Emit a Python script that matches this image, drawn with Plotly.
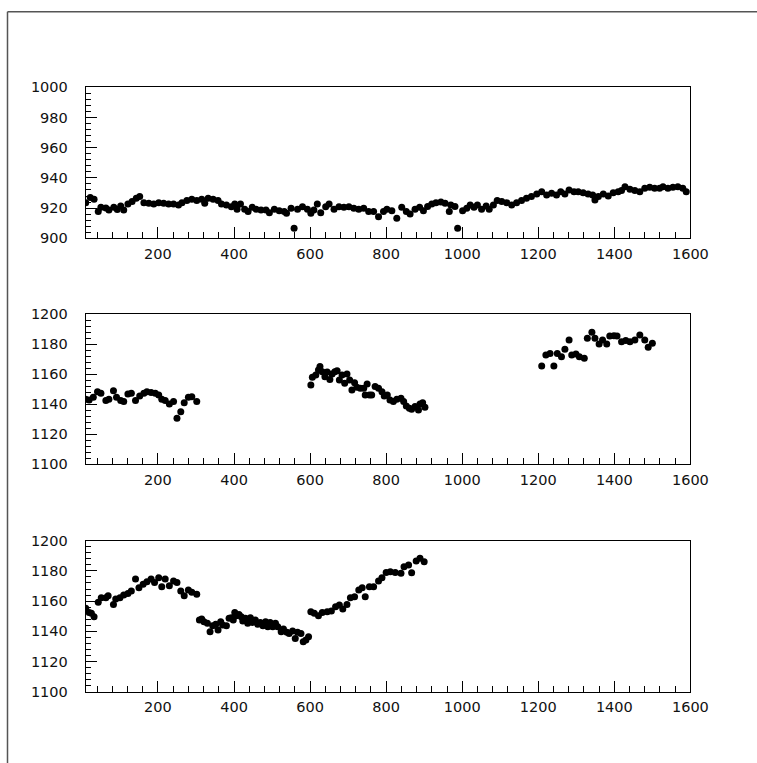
import plotly.graph_objects as go

# ---- panel 1 : values around 920 ----
p1_x = [10, 22, 32, 43, 50, 63, 71, 84, 93, 102, 110, 121, 132, 143, 152, 163, 176, 189,
        202, 215, 228, 241, 254, 263, 276, 289, 302, 315, 323, 332, 345, 358, 367, 380,
        393, 402, 408, 417, 428, 437, 448, 458, 471, 484, 493, 506, 519, 532, 538, 550,
        558, 567, 580, 593, 602, 610, 619, 628, 641, 650, 663, 676, 689, 702, 715, 728,
        741, 754, 767, 780, 793, 802, 815, 828, 841, 853, 863, 876, 888, 898, 909, 920,
        931, 944, 955, 966, 970, 981, 988, 1001, 1012, 1021, 1031, 1040, 1051, 1063, 1071,
        1082, 1092, 1104, 1117, 1130, 1143, 1156, 1169, 1182, 1196, 1209, 1222, 1235, 1248,
        1259, 1270, 1281, 1294, 1305, 1318, 1331, 1343, 1349, 1358, 1371, 1384, 1397, 1410,
        1419, 1428, 1441, 1454, 1467, 1480, 1493, 1506, 1519, 1528, 1541, 1554, 1567, 1580,
        1589]
p1_y = [923.6, 927.0, 925.8, 917.7, 920.5, 920.0, 918.8, 920.5, 919.0, 921.4, 918.8, 922.7,
        924.3, 926.5, 927.6, 923.6, 923.2, 922.7, 923.6, 923.2, 922.7, 922.7, 922.0, 923.6,
        925.0, 925.8, 925.0, 925.8, 923.2, 926.5, 925.8, 925.0, 922.7, 922.0, 920.9, 922.7,
        919.2, 922.7, 919.2, 917.7, 920.5, 919.2, 918.8, 918.8, 917.0, 919.2, 918.3, 917.7,
        916.6, 919.9, 906.6, 919.2, 920.9, 919.2, 916.6, 918.8, 922.7, 917.0, 920.9, 922.7,
        919.2, 920.9, 920.5, 920.9, 919.9, 919.2, 919.9, 917.7, 917.7, 914.3, 917.7, 919.2,
        918.3, 913.2, 920.5, 917.7, 916.1, 919.2, 920.5, 918.3, 921.0, 922.7, 923.6, 924.0,
        923.2, 917.7, 922.0, 921.0, 906.6, 918.3, 919.9, 922.0, 920.5, 922.0, 919.2, 921.4,
        919.2, 922.0, 925.0, 924.3, 923.6, 922.0, 923.6, 925.0, 926.5, 927.6, 929.4, 930.9,
        928.7, 929.8, 928.7, 930.9, 929.4, 932.0, 930.9, 930.9, 930.2, 929.4, 928.7, 925.4,
        927.6, 929.4, 928.0, 930.2, 930.9, 931.6, 934.2, 932.5, 931.6, 930.9, 933.1, 933.8,
        933.1, 933.1, 934.2, 933.1, 933.8, 934.2, 933.1, 930.9]

# ---- panel 2 : three separate stretches ----
p2_x = [10, 19, 30, 41, 50, 63, 71, 83, 91, 102, 110, 121, 130, 141, 152, 163, 171, 182,
        193, 202, 210, 219, 230, 241, 250, 260, 269, 280, 289, 302,
        602, 606, 615, 622, 626, 632, 639, 645, 652, 658, 665, 671, 677, 684, 691, 697,
        704, 710, 717, 723, 732, 741, 745, 750, 756, 762, 771, 780, 789, 795, 803, 810,
        819, 828, 839, 846, 853, 861, 867, 876, 885, 889, 896, 902,
        1209, 1220, 1231, 1241, 1250, 1261, 1270, 1281, 1288, 1299, 1308, 1321, 1329, 1341,
        1349, 1360, 1369, 1380, 1388, 1399, 1407, 1419, 1430, 1441, 1454, 1467, 1480, 1489,
        1500]
p2_y = [1143.2, 1142.8, 1144.6, 1148.3, 1147.2, 1142.4, 1143.2, 1149.0, 1144.6, 1142.4,
        1141.7, 1146.8, 1147.2, 1142.4, 1145.5, 1147.2, 1148.3, 1147.7, 1147.2, 1146.1,
        1143.2, 1142.4, 1140.1, 1141.7, 1130.6, 1135.0, 1141.0, 1144.6, 1145.0, 1141.7,
        1152.8, 1157.9, 1159.4, 1162.7, 1165.0, 1161.6, 1158.3, 1161.4, 1156.5, 1160.0,
        1161.6, 1162.3, 1156.1, 1159.4, 1153.9, 1160.0, 1156.1, 1149.4, 1154.3, 1151.2,
        1150.6, 1150.6, 1146.1, 1153.4, 1146.1, 1146.1, 1151.7, 1150.6, 1148.3, 1145.5,
        1146.1, 1142.8, 1141.7, 1143.2, 1143.9, 1141.7, 1138.8, 1137.3, 1136.6, 1138.4,
        1136.1, 1140.1, 1141.0, 1137.9,
        1165.4, 1172.7, 1173.8, 1165.4, 1173.8, 1171.6, 1176.5, 1182.7, 1172.7, 1173.4,
        1171.6, 1170.5, 1183.8, 1187.8, 1183.8, 1180.0, 1182.7, 1180.0, 1185.4, 1185.6,
        1185.4, 1181.6, 1182.3, 1181.6, 1182.7, 1186.0, 1182.7, 1177.8, 1180.5]

# ---- panel 3 : continuous stretch up to 900 ----
p3_x = [10, 19, 25, 32, 43, 51, 63, 69, 83, 89, 100, 110, 121, 130, 141, 150, 161, 171,
        182, 191, 202, 210, 219, 230, 241, 250, 260, 269, 280, 289, 302, 309, 315, 321,
        330, 337, 344, 352, 358, 365, 370, 380, 387, 393, 398, 402, 406, 413, 419, 423,
        430, 436, 443, 449, 456, 462, 469, 476, 483, 489, 495, 502, 509, 515, 524, 530,
        539, 545, 554, 561, 567, 576, 582, 589, 596, 602, 611, 622, 632, 645, 656, 667,
        677, 686, 697, 706, 717, 728, 737, 745, 756, 767, 780, 789, 800, 811, 824, 839,
        847, 859, 867, 879, 889, 900]
p3_y = [1155.2, 1152.5, 1151.9, 1149.7, 1159.2, 1162.3, 1162.3, 1163.6, 1157.8, 1161.4,
        1162.3, 1164.0, 1165.1, 1166.7, 1174.6, 1168.9, 1171.1, 1172.8, 1174.6, 1172.4,
        1175.5, 1169.5, 1174.6, 1170.2, 1173.3, 1172.4, 1166.7, 1163.6, 1167.3, 1165.8,
        1164.5, 1147.5, 1148.1, 1146.4, 1145.3, 1139.7, 1143.7, 1144.6, 1140.8, 1146.4,
        1144.2, 1143.7, 1148.6, 1149.0, 1147.5, 1152.5, 1150.3, 1151.2, 1149.7, 1146.8,
        1148.6, 1145.3, 1149.0, 1145.9, 1147.5, 1144.6, 1145.9, 1143.7, 1146.4, 1143.0,
        1145.9, 1143.0, 1145.3, 1143.0, 1139.7, 1141.5, 1139.3, 1138.6, 1140.2, 1135.3,
        1139.3, 1138.6, 1133.1, 1134.2, 1136.4, 1153.0, 1151.9, 1150.3, 1152.5, 1153.0,
        1153.4, 1156.3, 1157.4, 1154.7, 1157.8, 1162.3, 1162.9, 1167.3, 1168.9, 1162.9,
        1169.5, 1169.5, 1173.3, 1175.5, 1179.0, 1179.5, 1179.0, 1178.4, 1182.8, 1183.9,
        1178.8, 1186.5, 1188.3, 1186.1]

x_range = [10, 1600]
y_ranges = [[900, 1000], [1100, 1200], [1100, 1200]]

W, H = 757, 763
# plot frames in pixels: left, right, top, bottom
frame_left, frame_right = 85.7, 690.4
frame_rows = [(87.3, 238.3), (314.0, 464.3), (540.7, 691.7)]

font = dict(family="DejaVu Sans", size=14.5, color="#111111")

fig = go.Figure()
series = [(p1_x, p1_y), (p2_x, p2_y), (p3_x, p3_y)]
for i, (xs, ys) in enumerate(series):
    sfx = "" if i == 0 else str(i + 1)
    fig.add_trace(go.Scatter(
        x=xs, y=ys, mode="markers",
        marker=dict(color="#000000", size=7, line=dict(width=0)),
        xaxis="x" + sfx, yaxis="y" + sfx, showlegend=False,
        hoverinfo="x+y",
    ))

layout = dict(
    template="none",
    width=W, height=H, autosize=False,
    margin=dict(l=0, r=0, t=0, b=0, pad=0, autoexpand=False),
    paper_bgcolor="#ffffff", plot_bgcolor="#ffffff",
    showlegend=False, font=font,
)

for i, (top, bottom) in enumerate(frame_rows):
    sfx = "" if i == 0 else str(i + 1)
    layout["xaxis" + sfx] = dict(
        domain=[frame_left / W, frame_right / W],
        range=x_range, anchor="y" + sfx, automargin=False,
        showline=True, mirror=True, linecolor="#000000", linewidth=1,
        showgrid=False, zeroline=False,
        ticks="inside", ticklen=11, tickwidth=1, tickcolor="#000000",
        tick0=0, dtick=200, tickfont=font, ticklabelstandoff=2,
        minor=dict(ticks="inside", ticklen=6, tickwidth=1, tickcolor="#000000",
                   dtick=40, tick0=0, showgrid=False),
        fixedrange=True,
    )
    layout["yaxis" + sfx] = dict(
        domain=[1 - bottom / H, 1 - top / H],
        range=y_ranges[i], anchor="x" + sfx, automargin=False,
        showline=True, mirror=True, linecolor="#000000", linewidth=1,
        showgrid=False, zeroline=False,
        ticks="inside", ticklen=11, tickwidth=1, tickcolor="#000000",
        tick0=y_ranges[i][0], dtick=20, tickfont=font, ticklabelstandoff=14,
        minor=dict(ticks="inside", ticklen=5, tickwidth=1, tickcolor="#000000",
                   dtick=4, tick0=y_ranges[i][0], showgrid=False),
        fixedrange=True,
    )

# canvas border along the top and left edges
bx, by = 7.5 / W, 1 - 11.7 / H
layout["shapes"] = [
    dict(type="line", xref="paper", yref="paper", x0=bx, x1=1.0, y0=by, y1=by,
         line=dict(color="#555555", width=1.5)),
    dict(type="line", xref="paper", yref="paper", x0=bx, x1=bx, y0=0.0, y1=by,
         line=dict(color="#555555", width=1.5)),
]

fig.update_layout(**layout)
fig.write_html("out.html", config={"responsive": False, "displayModeBar": False})
